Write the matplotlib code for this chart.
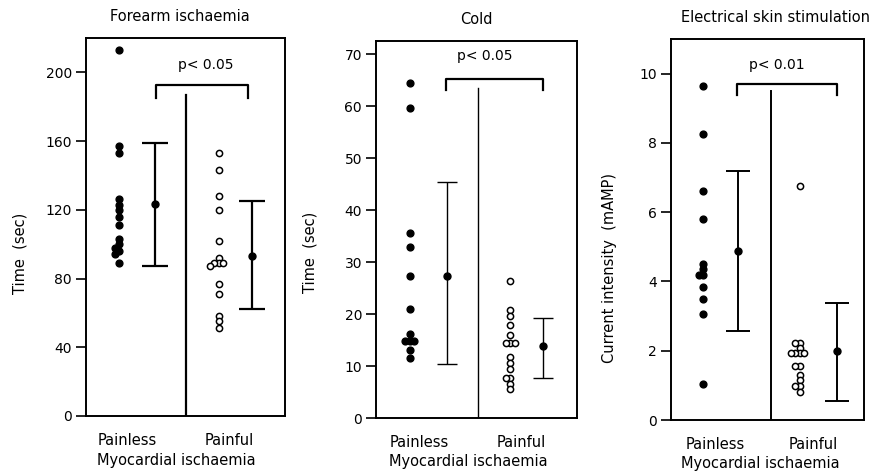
import matplotlib
matplotlib.use("Agg")
import matplotlib.pyplot as plt

plt.rcParams["font.family"] = "DejaVu Sans"
plt.rcParams["font.size"] = 10

# --- data ---
titles = ["Forearm ischaemia", "Cold", "Electrical skin stimulation"]
ylabels = ["Time  (sec)", "Time  (sec)", "Current intensity  (mAMP)"]
group_labels = ["Painless", "Painful"]
xlabel = "Myocardial ischaemia"
pvalues = ["p< 0.05", "p< 0.05", "p< 0.01"]

forearm_painless = [213, 157, 153, 126, 123, 120, 116, 111, 103, 100, 98, 96, 94, 89]
forearm_painful = [153, 143, 128, 120, 102, 92, 89, 89, 89, 87, 77, 71, 58, 55, 51]
forearm_mean = [123.5, 93]
forearm_lo = [87, 62]
forearm_hi = [159, 125]

cold_painless = [64.5, 59.7, 35.6, 32.8, 27.3, 20.9, 16.1, 14.8, 14.8, 14.8, 13.1, 11.5]
cold_painful = [26.3, 20.7, 19.6, 17.8, 15.9, 14.4, 14.4, 14.4, 11.8, 10.6, 9.4, 7.6, 7.6, 6.6, 5.6]
cold_mean = [27.3, 13.8]
cold_lo = [10.4, 7.6]
cold_hi = [45.3, 19.3]

elec_painless = [9.65, 8.25, 6.6, 5.8, 4.5, 4.35, 4.2, 4.2, 3.85, 3.5, 3.05, 1.05]
elec_painful = [6.75, 2.22, 2.22, 2.07, 1.93, 1.93, 1.93, 1.93, 1.55, 1.55, 1.3, 1.15, 0.98, 0.98, 0.82]
elec_mean = [4.88, 2.0]
elec_lo = [2.57, 0.55]
elec_hi = [7.2, 3.37]

panels = [
    (forearm_painless, forearm_painful, forearm_mean, forearm_lo, forearm_hi),
    (cold_painless, cold_painful, cold_mean, cold_lo, cold_hi),
    (elec_painless, elec_painful, elec_mean, elec_lo, elec_hi),
]
yticks = [[0, 40, 80, 120, 160, 200], [0, 10, 20, 30, 40, 50, 60, 70], [0, 2, 4, 6, 8, 10]]
ylims = [220, 72.5, 11.0]

# layout (figure fractions / data-x positions)
rects = [
    [0.0976, 0.1224, 0.2259, 0.7975],
    [0.4268, 0.1181, 0.2282, 0.7954],
    [0.7616, 0.1139, 0.2190, 0.8038],
]
mean_x = [[2.08, 5.0], [2.11, 4.99], [2.09, 5.15]]
divider_x = [3.02, 3.05, 3.1]
divider_top = [187, 63.5, 9.49]
bracket_x = [[2.11, 4.88], [2.08, 4.99], [2.06, 5.17]]
bracket_y = [[185, 192.6], [63.0, 65.1], [9.39, 9.7]]
ptext_xy = [(3.6, 204), (3.26, 69.6), (3.3, 10.26)]
label_x = [[1.25, 4.33], [1.28, 4.32], [1.39, 4.42]]
xlabel_x = [2.71, 2.76, 2.79]
xlabel_y = [-0.119, -0.114, -0.115]
title_x = [0.47, 0.50, 0.54]
ylabel_x = [-0.295, -0.29, -0.28]
ylabel_y = [0.43, 0.44, 0.40]
lw_main = [1.6, 1.0, 1.4]
caps = [9.5, 7.0, 8.5]

W, H = 881, 474


def swarm(vals, x0, px_per_unit, px_per_x, gap=4.5, min_sep=3.5):
    placed = []
    xs = []
    for v in vals:
        for k in [0, -1, 1, -2, 2, -3, 3]:
            if all(not (pk == k and abs(pv - v) * px_per_unit < min_sep) for pk, pv in placed):
                break
        placed.append((k, v))
        xs.append(x0 + k * gap / px_per_x)
    return xs


fig = plt.figure(figsize=(W / 100, H / 100), dpi=100)

for i, (painless, painful, means, lo, hi) in enumerate(panels):
    ax = fig.add_axes(rects[i])
    ax.set_xlim(0, 6)
    ax.set_ylim(0, ylims[i])
    px_y = rects[i][3] * H / ylims[i]
    px_x = rects[i][2] * W / 6

    xs = swarm(painless, 1.0, px_y, px_x)
    ax.scatter(xs, painless, s=24, color="black", zorder=3, clip_on=False)
    xs = swarm(painful, 4.0, px_y, px_x)
    ax.scatter(xs, painful, s=20, facecolor="white", edgecolor="black",
               linewidth=1.1, zorder=3)

    yerr = [[m - l for m, l in zip(means, lo)], [h - m for m, h in zip(means, hi)]]
    ax.errorbar(mean_x[i], means, yerr=yerr, fmt="o", color="black", ms=5,
                elinewidth=lw_main[i], capsize=caps[i], capthick=lw_main[i], zorder=3)

    ax.plot([divider_x[i], divider_x[i]], [0, divider_top[i]], color="black", lw=lw_main[i])
    bx, by = bracket_x[i], bracket_y[i]
    ax.plot([bx[0], bx[0], bx[1], bx[1]], [by[0], by[1], by[1], by[0]], color="black", lw=1.6)
    ax.text(ptext_xy[i][0], ptext_xy[i][1], pvalues[i], ha="center", va="center", fontsize=10)

    ax.set_yticks(yticks[i])
    ax.tick_params(axis="y", direction="out", length=7, width=1.2, pad=3, labelsize=10)
    ax.set_xticks(label_x[i], group_labels)
    ax.tick_params(axis="x", length=0, pad=12, labelsize=10.5)
    for sp in ax.spines.values():
        sp.set_linewidth(1.4)

    ax.set_ylabel(ylabels[i], fontsize=10.5)
    ax.yaxis.set_label_coords(ylabel_x[i], ylabel_y[i])
    ax.text(title_x[i], 1.056, titles[i], transform=ax.transAxes, ha="center",
            va="center", fontsize=10.5)
    ax.text(xlabel_x[i], xlabel_y[i], xlabel, transform=ax.get_xaxis_transform(),
            ha="center", va="center", fontsize=10.5)

fig.savefig("out.png", dpi=100)
